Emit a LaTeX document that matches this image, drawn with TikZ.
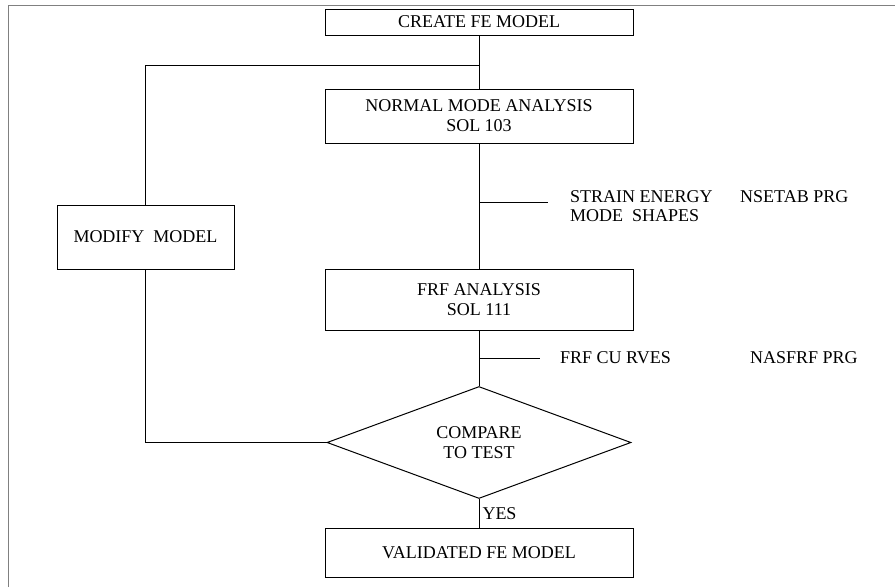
\documentclass[tikz,border=0pt]{standalone}
\usepackage{fontspec}
\setmainfont{Liberation Serif}
\usetikzlibrary{shapes.geometric}

\begin{document}
\begin{tikzpicture}[x=1pt,y=-1pt,
  box/.style={draw,line width=1pt,align=center,inner sep=0pt,font=\fontsize{18}{20}\selectfont},
  lbl/.style={anchor=west,inner sep=0pt,font=\fontsize{18}{20}\selectfont},
  conn/.style={line width=1pt}]
\useasboundingbox (0,0) rectangle (895,587);
\draw[gray,line width=1pt] (8,587)--(8,5)--(895,5);
\node[box,minimum width=308,minimum height=26] (create) at (479,22) {CREATE FE MODEL};
\node[box,minimum width=308,minimum height=54] (normal) at (479,116) {NORMAL MODE ANALYSIS\\SOL 103};
\node[box,minimum width=177,minimum height=64] (modify) at (145.5,237) {MODIFY \ MODEL};
\node[box,minimum width=308,minimum height=61] (frf) at (479,299.5) {FRF ANALYSIS\\SOL 111};
\node[box,diamond,aspect=2.7,minimum width=304,minimum height=112] (compare) at (479,442.5) {COMPARE\\TO TEST};
\node[box,minimum width=308,minimum height=49] (valid) at (479,552.5) {VALIDATED FE MODEL};
\coordinate (jn) at (479,65);
\coordinate (sejn) at (479,202);
\coordinate (seend) at (548,202);
\coordinate (crjn) at (479,358);
\coordinate (crend) at (540,358);
\node[lbl] (strain) at (570,197) {STRAIN ENERGY};
\node[lbl] (nsetab) at (740,197) {NSETAB PRG};
\node[lbl] (shapes) at (570,216) {MODE \ SHAPES};
\node[lbl] (curves) at (560,358) {FRF CU RVES};
\node[lbl] (nasfrf) at (750,358) {NASFRF PRG};
\draw[conn] (create) -- (normal);
\draw[conn] (normal) -- (frf);
\draw[conn] (frf) -- (compare);
\draw[conn] (compare) -- node[right,inner sep=3pt,font=\fontsize{18}{20}\selectfont] (yes) {YES} (valid);
\draw[conn] (compare.west) -| (modify.south);
\draw[conn] (modify.north) |- (jn);
\draw[conn] (sejn) -- (seend);
\draw[conn] (crjn) -- (crend);
\end{tikzpicture}
\end{document}
